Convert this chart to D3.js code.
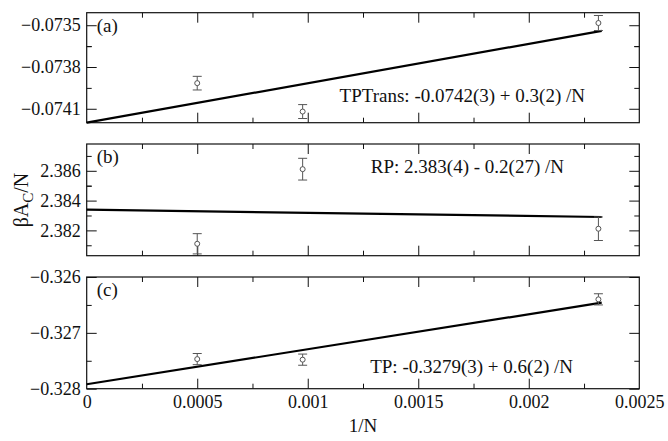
<!DOCTYPE html>
<html>
<head>
<meta charset="utf-8">
<script src="https://cdn.jsdelivr.net/npm/d3@7"></script>
<style>
  body { margin: 0; background: #fff; }
  svg { display: block; }
  text { font-family: 'Liberation Serif', 'Times New Roman', serif; fill: #111; }
</style>
</head>
<body>
<div id="graph"></div>
<script>
// x values are 1/N for the three system sizes
var xValues = [0.0005, 0.000977, 0.002315]

var tpTransY = [-0.073916, -0.07412, -0.073484]
var tpTransErr = [0.000049, 0.00005, 0.000054]
var rpY = [2.3811, 2.38611, 2.38211]
var rpErr = [0.00068, 0.00073, 0.00079]
var tpY = [-0.32747, -0.32748, -0.3264]
var tpErr = [0.0001, 0.0001, 0.0001]

// fitted lines, drawn between two end points
var fitX = [0, 0.00233]
var tpTransFit = [-0.07420, -0.07354]
var rpFit = [2.38339, 2.3829]
var tpFit = [-0.32792, -0.32646]

var xTicks = [0, 0.0005, 0.001, 0.0015, 0.002, 0.0025]
var xTickLabels = ['0', '0.0005', '0.001', '0.0015', '0.002', '0.0025']
var tpTransTicks = [-0.0741, -0.0738, -0.0735]
var rpTicks = [2.382, 2.384, 2.386]
var tpTicks = [-0.328, -0.327, -0.326]

var panelLabels = ['(a)', '(b)', '(c)']
var fitLabels = [
  'TPTrans: -0.0742(3) + 0.3(2) /N',
  'RP: 2.383(4) - 0.2(27) /N',
  'TP: -0.3279(3) + 0.6(2) /N',
]

var width = 668
var height = 441
var left = 86.7
var right = 639.3

var panels = [
  { y: tpTransY, err: tpTransErr, fit: tpTransFit, ticks: tpTransTicks, step: 0.0003,
    domain: [-0.07420, -0.07341], top: 12.7, bottom: 122.7, fmt: d3.format('.4f'),
    labelPos: [585, 102] },
  { y: rpY, err: rpErr, fit: rpFit, ticks: rpTicks, step: 0.002,
    domain: [2.3803, 2.3878], top: 144, bottom: 255.7, fmt: d3.format('.3f'),
    labelPos: [564, 173] },
  { y: tpY, err: tpErr, fit: tpFit, ticks: tpTicks, step: 0.001,
    domain: [-0.328, -0.326], top: 277, bottom: 388.7, fmt: d3.format('.3f'),
    labelPos: [573, 373] },
]

var svg = d3
  .select('#graph')
  .append('svg')
  .attr('width', width)
  .attr('height', height)

var x = d3.scaleLinear().domain([0, 0.0025]).range([left, right])

var xMinor = []
for (var i = 0; i < xTicks.length - 1; i++) {
  xMinor.push((xTicks[i] + xTicks[i + 1]) / 2)
}

function styleAxis(sel) {
  sel.select('.domain').remove()
  sel.selectAll('line').attr('stroke', '#111').attr('stroke-width', 1)
  sel
    .selectAll('text')
    .style('font-family', "'Liberation Serif', 'Times New Roman', serif")
    .style('font-size', '18px')
    .attr('fill', '#111')
}

panels.forEach(function(p, k) {
  var y = d3.scaleLinear().domain(p.domain).range([p.bottom, p.top])
  var g = svg.append('g')

  var yMinor = []
  p.ticks.forEach(function(t) {
    ;[t - p.step / 2, t + p.step / 2].forEach(function(m) {
      if (m > p.domain[0] && m < p.domain[1] && yMinor.indexOf(m) < 0) yMinor.push(m)
    })
  })

  // x ticks, inward on top and bottom of every panel
  g.append('g')
    .attr('transform', 'translate(0,' + p.bottom + ')')
    .call(d3.axisBottom(x).tickValues(xTicks.slice(1, -1)).tickSize(-10).tickFormat(''))
    .call(styleAxis)
  g.append('g')
    .attr('transform', 'translate(0,' + p.bottom + ')')
    .call(d3.axisBottom(x).tickValues(xMinor).tickSize(-5).tickFormat(''))
    .call(styleAxis)
  g.append('g')
    .attr('transform', 'translate(0,' + p.top + ')')
    .call(d3.axisTop(x).tickValues(xTicks.slice(1, -1)).tickSize(-10).tickFormat(''))
    .call(styleAxis)
  g.append('g')
    .attr('transform', 'translate(0,' + p.top + ')')
    .call(d3.axisTop(x).tickValues(xMinor).tickSize(-5).tickFormat(''))
    .call(styleAxis)

  // y ticks
  g.append('g')
    .attr('transform', 'translate(' + left + ',0)')
    .call(d3.axisLeft(y).tickValues(p.ticks).tickSize(-10).tickPadding(6).tickFormat(p.fmt))
    .call(styleAxis)
  g.append('g')
    .attr('transform', 'translate(' + left + ',0)')
    .call(d3.axisLeft(y).tickValues(yMinor).tickSize(-5).tickFormat(''))
    .call(styleAxis)
  g.append('g')
    .attr('transform', 'translate(' + right + ',0)')
    .call(d3.axisRight(y).tickValues(p.ticks).tickSize(-10).tickFormat(''))
    .call(styleAxis)
  g.append('g')
    .attr('transform', 'translate(' + right + ',0)')
    .call(d3.axisRight(y).tickValues(yMinor).tickSize(-5).tickFormat(''))
    .call(styleAxis)

  if (k == 2) {
    g.append('g')
      .attr('transform', 'translate(0,' + p.bottom + ')')
      .call(
        d3.axisBottom(x).tickValues(xTicks).tickSize(0).tickPadding(7)
          .tickFormat(function(d, i) { return xTickLabels[i] })
      )
      .call(styleAxis)
  }

  // frame
  g.append('rect')
    .attr('x', left)
    .attr('y', p.top)
    .attr('width', right - left)
    .attr('height', p.bottom - p.top)
    .attr('fill', 'none')
    .attr('stroke', '#111')
    .attr('stroke-width', 1.2)

  // fit line
  g.append('line')
    .attr('x1', x(fitX[0]))
    .attr('y1', y(p.fit[0]))
    .attr('x2', x(fitX[1]))
    .attr('y2', y(p.fit[1]))
    .attr('stroke', '#000')
    .attr('stroke-width', 2.2)

  // error bars and symbols
  var pts = g
    .selectAll('.pt')
    .data(xValues.map(function(v, i) { return { x: v, y: p.y[i], e: p.err[i] } }))
    .enter()
    .append('g')
    .attr('class', 'pt')
  pts.append('line')
    .attr('x1', function(d) { return x(d.x) })
    .attr('x2', function(d) { return x(d.x) })
    .attr('y1', function(d) { return y(d.y - d.e) })
    .attr('y2', function(d) { return y(d.y + d.e) })
    .attr('stroke', '#555')
    .attr('stroke-width', 1)
  ;[-1, 1].forEach(function(s) {
    pts.append('line')
      .attr('x1', function(d) { return x(d.x) - 4.5 })
      .attr('x2', function(d) { return x(d.x) + 4.5 })
      .attr('y1', function(d) { return y(d.y + s * d.e) })
      .attr('y2', function(d) { return y(d.y + s * d.e) })
      .attr('stroke', '#555')
      .attr('stroke-width', 1)
  })
  pts.append('circle')
    .attr('cx', function(d) { return x(d.x) })
    .attr('cy', function(d) { return y(d.y) })
    .attr('r', 2.5)
    .attr('fill', '#fff')
    .attr('stroke', '#555')
    .attr('stroke-width', 1)

  g.append('text')
    .attr('x', left + 10)
    .attr('y', p.top + 19)
    .style('font-size', '19px')
    .text(panelLabels[k])

  g.append('text')
    .attr('x', p.labelPos[0])
    .attr('y', p.labelPos[1])
    .attr('text-anchor', 'end')
    .style('font-size', '19px')
    .text(fitLabels[k])
})

svg.append('text')
  .attr('x', (left + right) / 2)
  .attr('y', 432)
  .attr('text-anchor', 'middle')
  .style('font-size', '19px')
  .text('1/N')

var ylab = svg.append('text')
  .attr('transform', 'translate(28,200) rotate(-90)')
  .attr('text-anchor', 'middle')
  .style('font-size', '20px')
ylab.append('tspan').text('\u03b2A')
ylab.append('tspan').attr('dy', 5).style('font-size', '15px').text('C')
ylab.append('tspan').attr('dy', -5).text('/N')
</script>
</body>
</html>
